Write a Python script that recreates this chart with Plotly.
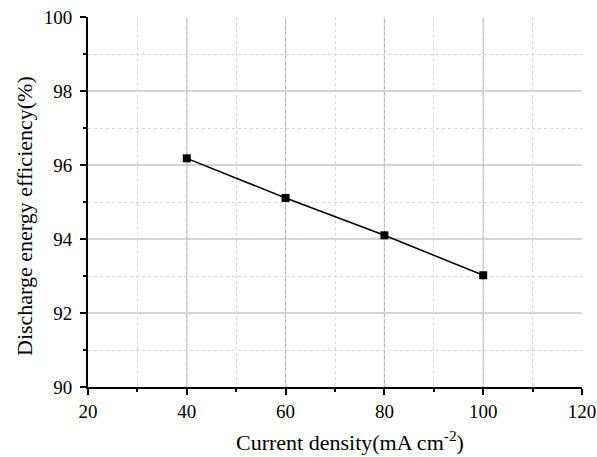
import plotly.graph_objects as go

current_density = [40, 60, 80, 100]
efficiency = [96.18, 95.11, 94.10, 93.02]

x_ticks = [20, 40, 60, 80, 100, 120]
y_ticks = [90, 92, 94, 96, 98, 100]

x_title = "Current density(mA cm<sup>-2</sup>)"
y_title = "Discharge energy efficiency(%)"

fig = go.Figure()
fig.add_trace(go.Scatter(
    x=current_density, y=efficiency, mode="lines+markers",
    line=dict(color="black", width=1.5),
    marker=dict(symbol="square", size=8, color="black"),
    showlegend=False,
))

font = "Liberation Serif, Times New Roman, serif"
axis_common = dict(
    showline=True, linecolor="black", linewidth=2,
    ticks="outside", ticklen=6, tickwidth=1.5, tickcolor="black",
    showgrid=False, zeroline=False, automargin=False,
    ticklabeloverflow="allow",
    tickfont=dict(family=font, size=19, color="black"),
)

minor_common = dict(ticks="outside", ticklen=3, tickcolor="black", tickwidth=1.5,
                    showgrid=True, gridcolor="#d6d6d6", griddash="dot", gridwidth=1)

fig.update_xaxes(
    range=[20, 120], tickvals=x_ticks, ticktext=[str(v) for v in x_ticks],
    minor=dict(dtick=10, **minor_common),
    **axis_common,
)
fig.update_yaxes(
    range=[90, 100], tickvals=y_ticks, ticktext=[str(v) for v in y_ticks],
    minor=dict(dtick=1, **minor_common),
    ticklabelstandoff=4,
    **axis_common,
)

# major gridlines at interior major ticks (none at the plot edges, as in the reference)
for xv in x_ticks[1:-1]:
    fig.add_vline(x=xv, line=dict(color="#a8a8a8", width=1), layer="below")
for yv in y_ticks[1:-1]:
    fig.add_hline(y=yv, line=dict(color="#a8a8a8", width=1), layer="below")

# axis titles
fig.add_annotation(text=x_title, xref="paper", yref="paper", x=0.53, y=0,
                   xanchor="center", yanchor="middle", yshift=-54, showarrow=False,
                   font=dict(family=font, size=22, color="black"))
fig.add_annotation(text=y_title, xref="paper", yref="paper", x=0, y=0.5,
                   xanchor="center", yanchor="middle", xshift=-64, yshift=-14,
                   textangle=-90, showarrow=False,
                   font=dict(family=font, size=22, color="black"))

fig.update_layout(
    width=597, height=457,
    margin=dict(l=88, r=15, t=17, b=70),
    plot_bgcolor="white", paper_bgcolor="white",
)

# remove the default page margin so the figure fills the 597x457 window exactly
fig.write_html("out.html",
               config={"displayModeBar": False},
               post_script="document.body.style.margin='0';document.body.style.overflow='hidden';")
